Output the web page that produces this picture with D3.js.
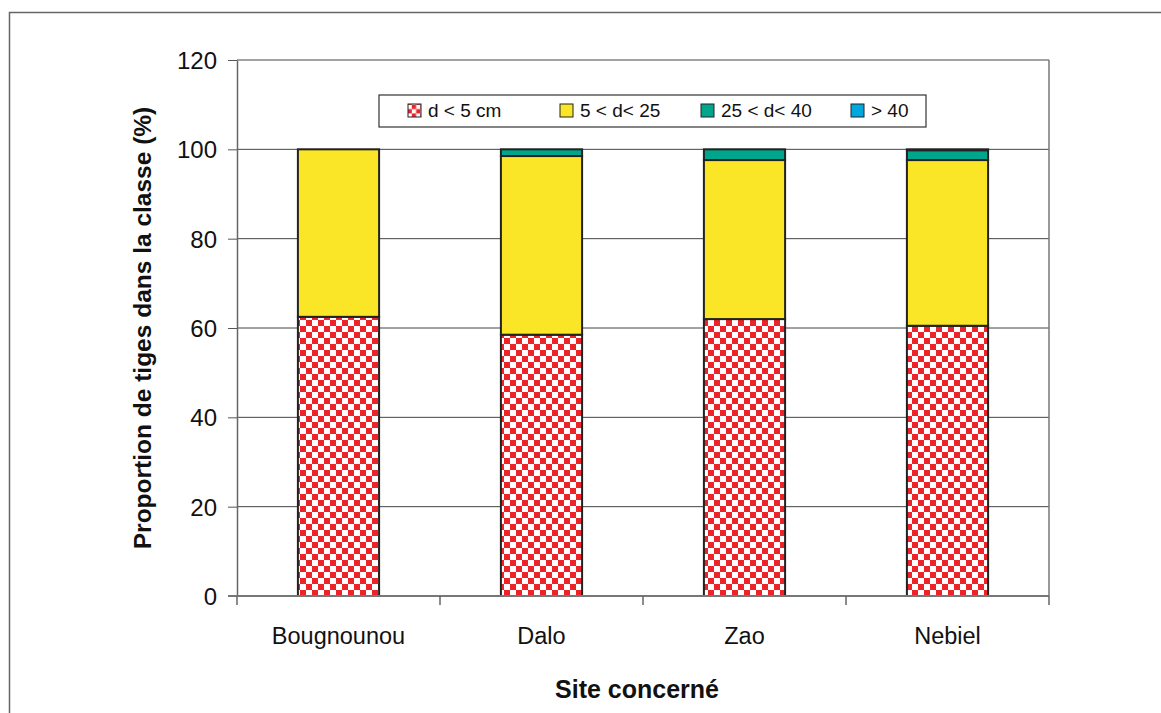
<!DOCTYPE html>
<html>
<head>
<meta charset="utf-8">
<script src="https://cdn.jsdelivr.net/npm/d3@7"></script>
<style>
  html, body { margin: 0; padding: 0; background: #fff; }
  svg { display: block; font-family: "Liberation Sans", Arial, Helvetica, sans-serif; }
</style>
</head>
<body>
<svg id="chart" width="1161" height="713"></svg>
<script>
// Sites and diameter classes
const sites = ["Bougnounou", "Dalo", "Zao", "Nebiel"];
const classes = ["d < 5 cm", "5 < d< 25", "25 < d< 40", "> 40"];

// Share of stems per class (%), one array per class, in site order
const dUnder5 = [62.5, 58.5, 62.0, 60.5];
const d5to25 = [37.5, 40.0, 35.6, 37.1];
const d25to40 = [0.0, 1.5, 2.4, 2.2];
const dOver40 = [0.0, 0.0, 0.0, 0.2];

const yTicks = [0, 20, 40, 60, 80, 100, 120];

const seriesValues = [dUnder5, d5to25, d25to40, dOver40];
const fills = ["url(#checker)", "#fae626", "#00a68c", "#00a8df"];
const FONT = "'Liberation Sans', Arial, Helvetica, sans-serif";

const rows = sites.map((s, i) => {
  const r = { site: s };
  classes.forEach((c, k) => r[c] = seriesValues[k][i]);
  return r;
});

const svg = d3.select("#chart");

// Checkerboard fill for the smallest class
const defs = svg.append("defs");
const pat = defs.append("pattern")
  .attr("id", "checker")
  .attr("patternUnits", "userSpaceOnUse")
  .attr("width", 12).attr("height", 12)
  .attr("x", 0).attr("y", 2);
pat.append("rect").attr("width", 12).attr("height", 12).attr("fill", "#fff");
pat.append("rect").attr("width", 6).attr("height", 6).attr("fill", "#ee2229");
pat.append("rect").attr("x", 6).attr("y", 6).attr("width", 6).attr("height", 6).attr("fill", "#ee2229");

// Outer frame
svg.append("path")
  .attr("d", "M9.5,720 V12.5 H1170")
  .attr("fill", "none").attr("stroke", "#666").attr("stroke-width", 1.5);

const plot = { left: 237, right: 1049, top: 60, bottom: 596 };

const x = d3.scaleBand().domain(sites).range([plot.left, plot.right]).paddingInner(0.6).paddingOuter(0.3);
const xEdge = d3.scaleBand().domain(sites).range([plot.left, plot.right]);
const y = d3.scaleLinear().domain([0, 120]).range([plot.bottom, plot.top]);

// Horizontal gridlines
svg.append("g")
  .selectAll("line")
  .data(yTicks.filter(t => t > 0))
  .join("line")
  .attr("x1", plot.left).attr("x2", plot.right)
  .attr("y1", d => y(d)).attr("y2", d => y(d))
  .attr("stroke", "#444").attr("stroke-width", 1);

// Right edge of plot area
svg.append("line")
  .attr("x1", plot.right).attr("x2", plot.right)
  .attr("y1", plot.top).attr("y2", plot.bottom)
  .attr("stroke", "#777").attr("stroke-width", 1.5);

// Stacked bars
const stack = d3.stack().keys(classes)(rows);
const layers = svg.append("g").selectAll("g")
  .data(stack)
  .join("g")
  .attr("fill", (d, i) => fills[i]);

layers.selectAll("rect")
  .data(d => d.filter(p => p[1] - p[0] > 0))
  .join("rect")
  .attr("x", d => x(d.data.site))
  .attr("width", x.bandwidth())
  .attr("y", d => y(d[1]))
  .attr("height", d => y(d[0]) - y(d[1]))
  .attr("stroke", "#222")
  .attr("stroke-width", 2);

// Y axis
const yAxis = svg.append("g")
  .attr("transform", `translate(${plot.left},0)`)
  .call(d3.axisLeft(y).tickValues(yTicks).tickSize(9).tickPadding(11).tickSizeOuter(0));
yAxis.attr("font-family", FONT).attr("font-size", 24);
yAxis.select(".domain").attr("stroke", "#666").attr("stroke-width", 1.5);
yAxis.selectAll(".tick line").attr("stroke", "#555");
yAxis.selectAll("text").attr("fill", "#111").attr("dy", "0.35em");

// X axis line with separators between sites
const xAxisG = svg.append("g");
xAxisG.append("line")
  .attr("x1", plot.left - 9).attr("x2", plot.right)
  .attr("y1", plot.bottom).attr("y2", plot.bottom)
  .attr("stroke", "#777").attr("stroke-width", 2);
const edges = sites.map(s => xEdge(s)).concat([plot.right]);
xAxisG.selectAll("line.sep")
  .data(edges)
  .join("line")
  .attr("class", "sep")
  .attr("x1", d => d).attr("x2", d => d)
  .attr("y1", plot.bottom).attr("y2", plot.bottom + 9)
  .attr("stroke", "#666").attr("stroke-width", 1.5);
xAxisG.selectAll("text")
  .data(sites)
  .join("text")
  .attr("x", d => xEdge(d) + xEdge.bandwidth() / 2)
  .attr("y", 644)
  .attr("text-anchor", "middle")
  .attr("font-size", 23.5)
  .attr("fill", "#111")
  .text(d => d);

// Axis titles
svg.append("text")
  .attr("transform", "translate(151,328) rotate(-90)")
  .attr("text-anchor", "middle")
  .attr("font-size", 24.5).attr("font-weight", "bold").attr("fill", "#111")
  .text("Proportion de tiges dans la classe (%)");

svg.append("text")
  .attr("x", 637).attr("y", 698)
  .attr("text-anchor", "middle")
  .attr("font-size", 25).attr("font-weight", "bold").attr("fill", "#111")
  .text("Site concerné");

// Legend
const legend = svg.append("g");
legend.append("rect")
  .attr("x", 379).attr("y", 95).attr("width", 547).attr("height", 32)
  .attr("fill", "#fff").attr("stroke", "#333").attr("stroke-width", 1.2);
const legendX = [408, 560, 701, 851];
const items = legend.selectAll("g.item")
  .data(classes)
  .join("g")
  .attr("class", "item")
  .attr("transform", (d, i) => `translate(${legendX[i]},104)`);
items.append("rect")
  .attr("width", 13).attr("height", 13)
  .attr("fill", (d, i) => i === 0 ? "url(#legchecker)" : fills[i])
  .attr("stroke", "#222").attr("stroke-width", 1);
items.append("text")
  .attr("x", 20).attr("y", 13)
  .attr("font-size", 19).attr("fill", "#111")
  .text(d => d);

// Smaller checker for the legend swatch
const lp = defs.append("pattern")
  .attr("id", "legchecker")
  .attr("patternUnits", "userSpaceOnUse")
  .attr("width", 8.6).attr("height", 8.6)
  .attr("x", legendX[0]).attr("y", 104);
lp.append("rect").attr("width", 8.6).attr("height", 8.6).attr("fill", "#fff");
lp.append("rect").attr("width", 4.3).attr("height", 4.3).attr("fill", "#ee2229");
lp.append("rect").attr("x", 4.3).attr("y", 4.3).attr("width", 4.3).attr("height", 4.3).attr("fill", "#ee2229");
</script>
</body>
</html>
